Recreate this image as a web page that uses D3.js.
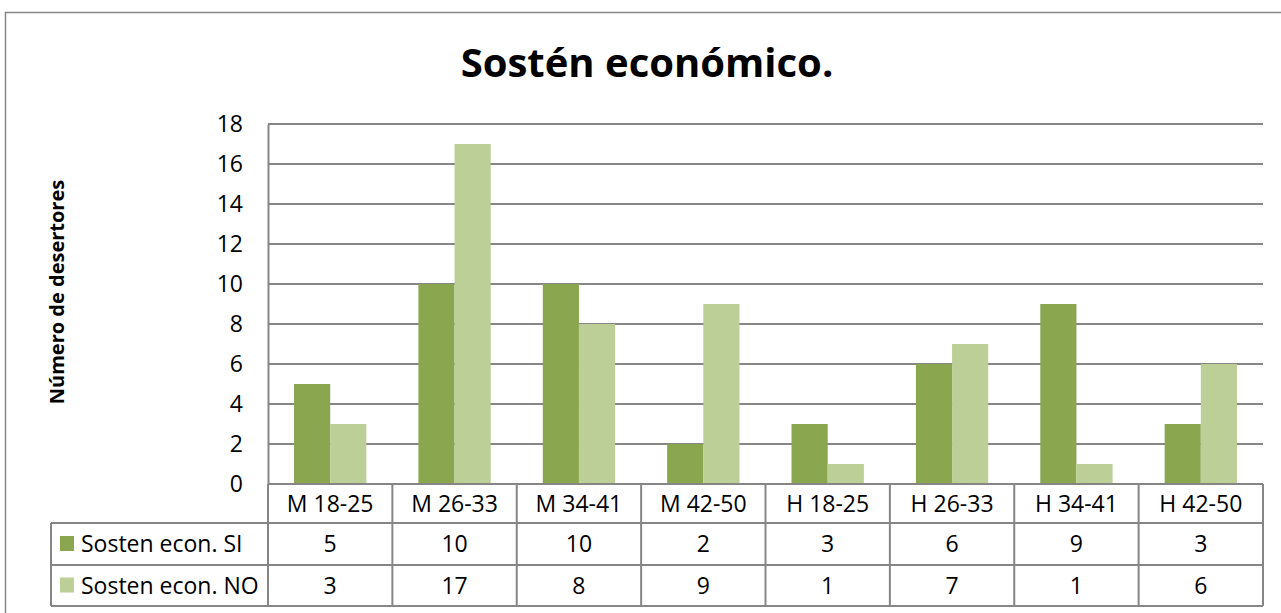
<!DOCTYPE html>
<html>
<head>
<meta charset="utf-8">
<script src="https://cdn.jsdelivr.net/npm/d3@7"></script>
<style>
  body { margin: 0; background: #fff; }
  svg { display: block; font-family: "Open Sans", sans-serif; }
</style>
</head>
<body>
<div id="chart"></div>
<script>
// données
const categories = ["M 18-25", "M 26-33", "M 34-41", "M 42-50", "H 18-25", "H 26-33", "H 34-41", "H 42-50"];
const serieNames = ["Sosten econ. SI", "Sosten econ. NO"];
const valuesSI = [5, 10, 10, 2, 3, 6, 9, 3];
const valuesNO = [3, 17, 8, 9, 1, 7, 1, 6];
const yTicks = [0, 2, 4, 6, 8, 10, 12, 14, 16, 18];
const colors = ["#8aa64f", "#bbcf96"];

const width = 1281;
const height = 613;
const plot = { left: 268, right: 1263, top: 124, bottom: 484 };
const rowH = [39, 42, 41];
const tableLeft = 51;
const gridColor = "#868686";
const fontSize = 23;

const svg = d3.select("#chart").append("svg")
  .attr("width", width)
  .attr("height", height);

// cadre extérieur
svg.append("rect")
  .attr("x", 5.5).attr("y", 12.5)
  .attr("width", 1290).attr("height", 640)
  .attr("fill", "none")
  .attr("stroke", "#868686")
  .attr("stroke-width", 1.5);

// titre
svg.append("text")
  .attr("x", 647).attr("y", 77)
  .attr("text-anchor", "middle")
  .attr("font-size", 40)
  .attr("font-weight", "bold")
  .text("Sostén económico.");

// échelles
const x = d3.scaleBand().domain(categories).range([plot.left, plot.right]);
const xs = d3.scaleBand().domain(serieNames)
  .range([0, x.bandwidth()]).paddingOuter(0.72).paddingInner(0);
const y = d3.scaleLinear().domain([0, 18]).range([plot.bottom, plot.top]);

// grille
svg.append("g")
  .selectAll("line")
  .data(yTicks)
  .join("line")
  .attr("x1", plot.left).attr("x2", plot.right)
  .attr("y1", d => y(d)).attr("y2", d => y(d))
  .attr("stroke", gridColor).attr("stroke-width", 2);

// axe Y
const yAxis = d3.axisLeft(y).tickValues(yTicks).tickSize(0).tickPadding(25);
const gy = svg.append("g")
  .attr("transform", "translate(" + plot.left + ",0)")
  .call(yAxis);
gy.select(".domain").attr("stroke", gridColor).attr("stroke-width", 2);
gy.selectAll("text").attr("font-size", fontSize).attr("font-family", "Open Sans").attr("fill", "#000");

// libellé Y
svg.append("text")
  .attr("transform", "translate(64,292) rotate(-90)")
  .attr("text-anchor", "middle")
  .attr("font-size", 20)
  .attr("font-weight", "bold")
  .text("Número de desertores");

// barres
const series = [valuesSI, valuesNO];
series.forEach((vals, i) => {
  svg.append("g")
    .selectAll("rect")
    .data(vals)
    .join("rect")
    .attr("x", (d, j) => x(categories[j]) + xs(serieNames[i]))
    .attr("y", d => y(d))
    .attr("width", xs.bandwidth())
    .attr("height", d => y(0) - y(d))
    .attr("fill", colors[i]);
});

// tableau de données
const rowY = [plot.bottom, plot.bottom + rowH[0], plot.bottom + rowH[0] + rowH[1], plot.bottom + rowH[0] + rowH[1] + rowH[2]];
const table = svg.append("g")
  .attr("stroke", gridColor)
  .attr("stroke-width", 2);

// lignes horizontales
table.append("line")
  .attr("x1", plot.left).attr("x2", plot.right)
  .attr("y1", rowY[0]).attr("y2", rowY[0]);
[1, 2, 3].forEach(r => {
  table.append("line")
    .attr("x1", tableLeft).attr("x2", plot.right)
    .attr("y1", rowY[r]).attr("y2", rowY[r]);
});
// lignes verticales
table.selectAll(".v")
  .data(categories.concat(["end"]))
  .join("line")
  .attr("class", "v")
  .attr("x1", d => d === "end" ? plot.right : x(d))
  .attr("x2", d => d === "end" ? plot.right : x(d))
  .attr("y1", rowY[0]).attr("y2", rowY[3]);
table.append("line")
  .attr("x1", tableLeft).attr("x2", tableLeft)
  .attr("y1", rowY[1]).attr("y2", rowY[3]);

// catégories
svg.append("g")
  .selectAll("text")
  .data(categories)
  .join("text")
  .attr("x", d => x(d) + x.bandwidth() / 2)
  .attr("y", (rowY[0] + rowY[1]) / 2)
  .attr("dy", "0.35em")
  .attr("text-anchor", "middle")
  .attr("font-size", fontSize)
  .text(d => d);

// valeurs
series.forEach((vals, i) => {
  const cy = (rowY[i + 1] + rowY[i + 2]) / 2;
  svg.append("g")
    .selectAll("text")
    .data(vals)
    .join("text")
    .attr("x", (d, j) => x(categories[j]) + x.bandwidth() / 2)
    .attr("y", cy)
    .attr("dy", "0.35em")
    .attr("text-anchor", "middle")
    .attr("font-size", fontSize)
    .text(d => d);

  // légende
  svg.append("rect")
    .attr("x", 60).attr("y", cy - 8)
    .attr("width", 14).attr("height", 15)
    .attr("fill", colors[i]);
  svg.append("text")
    .attr("x", 81).attr("y", cy)
    .attr("dy", "0.35em")
    .attr("font-size", fontSize)
    .text(serieNames[i]);
});
</script>
</body>
</html>
